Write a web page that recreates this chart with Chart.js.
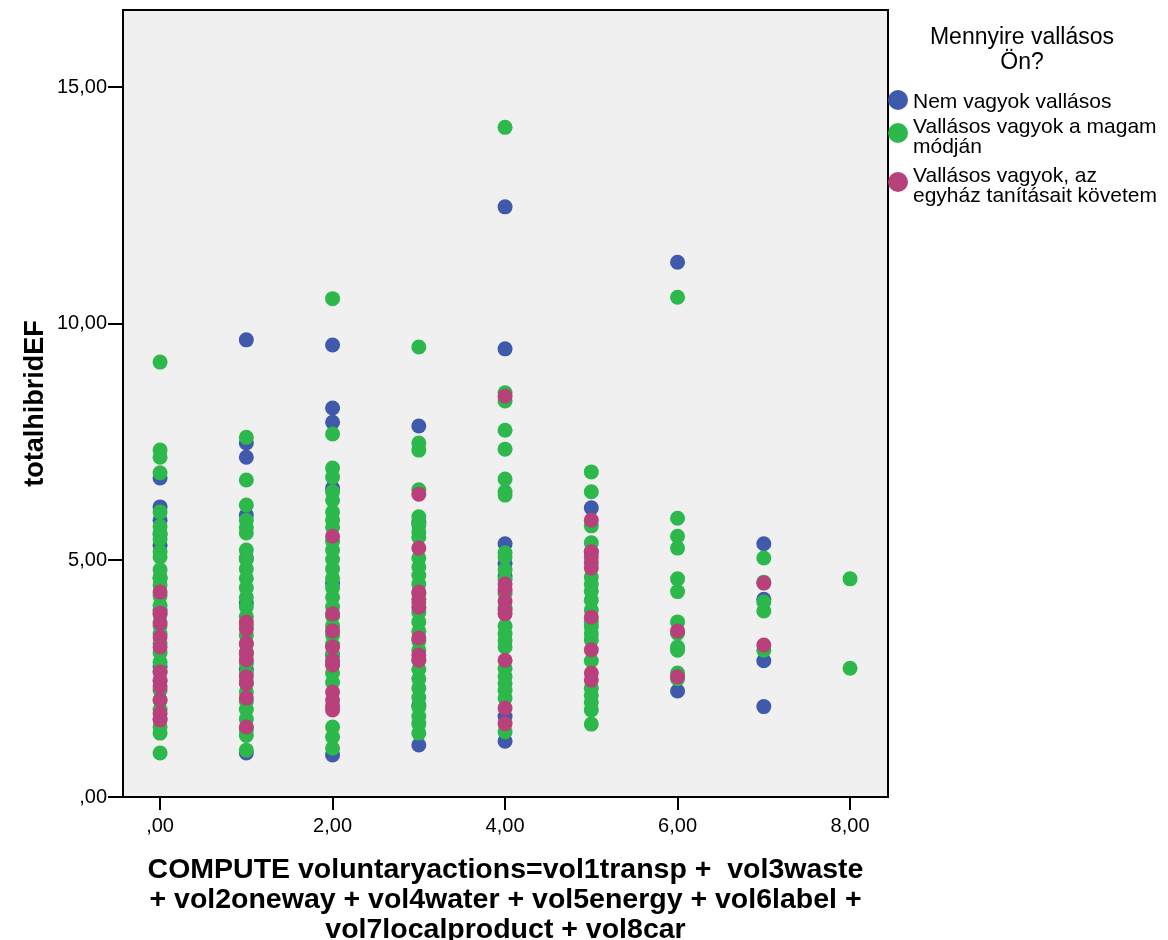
<!DOCTYPE html>
<html>
<head>
<meta charset="utf-8">
<script src="https://cdn.jsdelivr.net/npm/chart.js@4/dist/chart.umd.min.js"></script>
<style>
  html, body { margin: 0; padding: 0; background: #ffffff; overflow: hidden; }
  #wrap { position: relative; width: 1168px; height: 940px; overflow: hidden; }
  canvas { position: absolute; left: 0; top: 0; }
  .lg { position: absolute; font-family: "Liberation Sans", Arial, sans-serif; color: #000; white-space: nowrap; }
  .lgtitle { left: 880px; width: 284px; top: 24px; font-size: 23px; line-height: 25px; text-align: center; }
  .lgtext { left: 913px; font-size: 21px; line-height: 20px; }
  .dot { position: absolute; width: 20px; height: 20px; border-radius: 50%; }
</style>
</head>
<body>
<div id="wrap">
  <canvas id="c" width="1168" height="940"></canvas>
  <div class="lg lgtitle">Mennyire vallásos<br>Ön?</div>
  <div class="dot" style="left:888px; top:90px; background:#3f59ab;"></div>
  <div class="lg lgtext" style="top:91px;">Nem vagyok vallásos</div>
  <div class="dot" style="left:888px; top:123px; background:#2db84b;"></div>
  <div class="lg lgtext" style="top:116px;">Vallásos vagyok a magam<br>módján</div>
  <div class="dot" style="left:888px; top:172px; background:#b8417c;"></div>
  <div class="lg lgtext" style="top:165px;">Vallásos vagyok, az<br>egyház tanításait követem</div>
</div>
<script>
const xCategories = [0, 1, 2, 3, 4, 5, 6, 7, 8];
const xTicks = [0, 2, 4, 6, 8];
const yTicks = [0, 5, 10, 15];

// "Nem vagyok vallásos" – y values per x category
const nemVallasos = [
  [6.74, 6.13, 5.85, 5.55, 5.32, 4.63, 3.95, 2.75],
  [9.66, 7.48, 7.18, 5.96, 5.05, 4.10, 2.70, 0.93],
  [9.55, 8.22, 7.92, 6.53, 4.52, 3.00, 0.89],
  [7.84, 5.80, 1.94, 1.10],
  [12.47, 9.47, 5.35, 4.94, 4.67, 1.70, 1.18],
  [6.11, 5.18],
  [11.30, 2.24],
  [5.35, 4.18, 2.88, 1.91],
  []
];

// "Vallásos vagyok a magam módján"
const magamModjan = [
  [9.19, 7.33, 7.18, 6.85, 6.02, 5.72, 5.58, 5.45, 5.18, 5.07, 4.80, 4.62, 4.48, 4.25, 4.05, 3.85, 3.62, 3.45, 3.25, 3.05, 2.85, 2.65, 2.45, 2.25, 2.05, 1.85, 1.65, 1.48, 1.35, 0.93],
  [7.60, 6.70, 6.17, 5.85, 5.70, 5.58, 5.22, 5.02, 4.82, 4.62, 4.42, 4.22, 4.02, 3.82, 3.62, 3.42, 3.22, 3.02, 2.82, 2.62, 2.42, 2.22, 2.02, 1.85, 1.65, 1.42, 1.30, 0.99],
  [10.53, 7.67, 6.95, 6.76, 6.45, 6.27, 6.02, 5.85, 5.70, 5.40, 5.22, 5.02, 4.82, 4.62, 4.42, 4.22, 4.02, 3.82, 3.62, 3.42, 3.22, 3.02, 2.82, 2.62, 2.42, 1.48, 1.27, 1.03],
  [9.51, 7.48, 7.33, 6.49, 5.92, 5.75, 5.60, 5.49, 5.05, 4.86, 4.68, 4.50, 4.30, 4.10, 3.90, 3.70, 3.50, 3.30, 3.10, 2.90, 2.70, 2.50, 2.30, 2.10, 1.90, 1.70, 1.55, 1.35],
  [14.15, 8.54, 8.37, 7.75, 7.35, 6.72, 6.45, 6.38, 5.16, 5.07, 4.80, 4.60, 4.30, 4.00, 3.61, 3.45, 3.30, 3.17, 2.72, 2.55, 2.40, 2.25, 2.09, 1.38],
  [6.87, 6.45, 5.73, 5.37, 4.65, 4.50, 4.35, 4.16, 3.95, 3.70, 3.60, 3.45, 3.32, 2.88, 2.30, 2.15, 2.00, 1.84, 1.54],
  [10.56, 5.89, 5.51, 5.26, 4.61, 4.34, 3.70, 3.46, 3.17, 3.10, 2.62, 2.50],
  [5.05, 4.54, 4.12, 3.93, 3.10],
  [4.61, 2.72]
];

// "Vallásos vagyok, az egyház tanításait követem"
const egyhazTanitasai = [
  [4.33, 3.89, 3.68, 3.38, 3.17, 2.64, 2.47, 2.33, 2.05, 1.77, 1.63],
  [3.70, 3.55, 3.25, 3.05, 2.90, 2.54, 2.40, 2.09, 1.48],
  [5.51, 3.87, 3.51, 3.17, 2.89, 2.79, 2.22, 2.05, 1.92, 1.84],
  [6.40, 5.26, 4.33, 4.18, 4.01, 3.36, 3.00, 2.89],
  [8.47, 4.50, 4.38, 4.14, 3.95, 3.87, 2.89, 1.88, 1.55],
  [5.85, 5.18, 5.07, 4.95, 4.84, 3.80, 3.11, 2.62, 2.47],
  [3.51, 2.54],
  [4.52, 3.21],
  []
];

const seriesLabels = ["Nem vagyok vallásos", "Vallásos vagyok a magam módján", "Vallásos vagyok, az egyház tanításait követem"];
const seriesColors = ["#3f59ab", "#2db84b", "#b8417c"];

function toPoints(cols) {
  return cols.flatMap((col, i) => col.map(y => ({ x: xCategories[i], y: y })));
}

const FONT = '"Liberation Sans", Arial, sans-serif';

const framePlugin = {
  id: 'frame',
  beforeDraw(chart) {
    const { ctx, chartArea: a } = chart;
    ctx.save();
    ctx.fillStyle = '#f0f0f0';
    ctx.fillRect(a.left, a.top, a.right - a.left, a.bottom - a.top);
    ctx.restore();
  },
  afterDraw(chart) {
    const { ctx, chartArea: a } = chart;
    ctx.save();
    ctx.strokeStyle = '#000';
    ctx.lineWidth = 2;
    ctx.strokeRect(a.left, a.top, a.right - a.left, a.bottom - a.top);
    ctx.restore();
  }
};

function fmt(v) {
  if (v === 0) return ',00';
  return v.toFixed(2).replace('.', ',');
}

new Chart(document.getElementById('c'), {
  type: 'scatter',
  data: {
    datasets: [
      { label: seriesLabels[0], data: toPoints(nemVallasos), backgroundColor: seriesColors[0], order: 2 },
      { label: seriesLabels[1], data: toPoints(magamModjan), backgroundColor: seriesColors[1], order: 1 },
      { label: seriesLabels[2], data: toPoints(egyhazTanitasai), backgroundColor: seriesColors[2], order: 0 }
    ]
  },
  options: {
    responsive: false,
    animation: false,
    devicePixelRatio: 1,
    elements: { point: { radius: 7.5, borderWidth: 0, hoverRadius: 7.5 } },
    layout: { padding: { top: 10, right: 280, left: 0, bottom: 0 } },
    plugins: { legend: { display: false }, tooltip: { enabled: false } },
    scales: {
      x: {
        type: 'linear',
        min: -0.43,
        max: 8.44,
        afterBuildTicks: s => { s.ticks = xTicks.map(v => ({ value: v })); },
        afterFit: s => { s.height = 143; s.paddingLeft = 0; s.paddingRight = 0; },
        ticks: { callback: v => fmt(v), font: { family: FONT, size: 20 }, color: '#000', padding: 4, maxRotation: 0, autoSkip: false },
        grid: { drawOnChartArea: false, drawTicks: true, tickLength: 13, color: '#000', lineWidth: 2 },
        border: { display: false },
        title: {
          display: true,
          text: ['COMPUTE voluntaryactions=vol1transp +  vol3waste', '+ vol2oneway + vol4water + vol5energy + vol6label +', 'vol7localproduct + vol8car'],
          font: { family: FONT, size: 28.5, weight: 'bold', lineHeight: 30 / 28.5 },
          color: '#000',
          padding: { top: 0, bottom: -5 }
        }
      },
      y: {
        type: 'linear',
        min: 0,
        max: 16.63,
        afterBuildTicks: s => { s.ticks = yTicks.map(v => ({ value: v })); },
        afterFit: s => { s.width = 123; s.paddingTop = 0; s.paddingBottom = 0; },
        ticks: { callback: v => fmt(v), font: { family: FONT, size: 20 }, color: '#000', padding: 1, autoSkip: false },
        grid: { drawOnChartArea: false, drawTicks: true, tickLength: 15, color: '#000', lineWidth: 2 },
        border: { display: false },
        title: {
          display: true,
          text: 'totalhibridEF',
          font: { family: FONT, size: 27, weight: 'bold', lineHeight: 1.1 },
          color: '#000',
          padding: { top: 21, bottom: 0 }
        }
      }
    }
  },
  plugins: [framePlugin]
});
</script>
</body>
</html>
